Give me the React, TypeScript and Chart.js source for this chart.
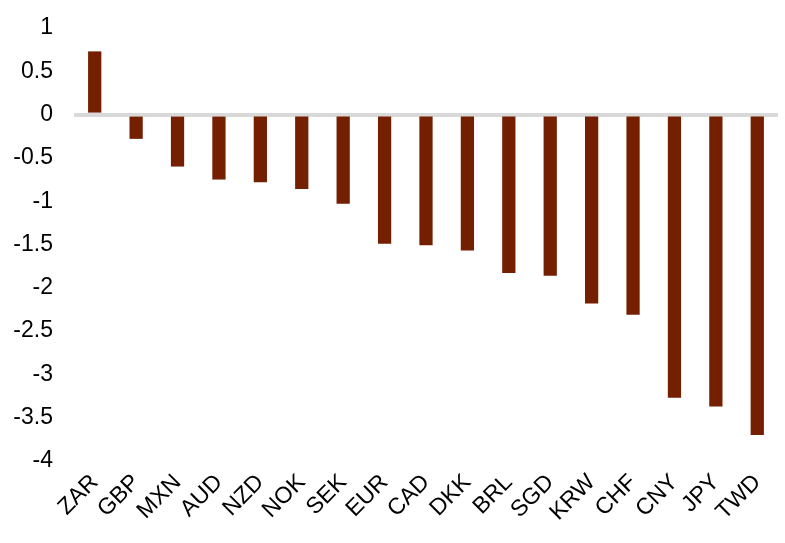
import React, { useEffect, useRef } from "react";
import { Chart, registerables } from "chart.js";

Chart.register(...registerables);

const categories = ["ZAR", "GBP", "MXN", "AUD", "NZD", "NOK", "SEK", "EUR", "CAD", "DKK", "BRL", "SGD", "KRW", "CHF", "CNY", "JPY", "TWD"];
const values = [0.73, -0.28, -0.6, -0.75, -0.78, -0.86, -1.03, -1.49, -1.51, -1.57, -1.83, -1.86, -2.18, -2.31, -3.27, -3.37, -3.7];
const yMin = -4;
const yMax = 1;
const yStep = 0.5;

export default function App() {
  const ref = useRef<HTMLCanvasElement | null>(null);

  useEffect(() => {
    document.body.style.margin = "0";
    const ctx = ref.current!.getContext("2d")!;
    const chart = new Chart(ctx, {
      type: "bar",
      data: {
        labels: categories,
        datasets: [
          {
            data: values,
            backgroundColor: "#731F00",
            borderWidth: 0,
            categoryPercentage: 1,
            barPercentage: 0.32,
          },
        ],
      },
      options: {
        animation: false,
        responsive: false,
        maintainAspectRatio: false,
        layout: { padding: { top: 28, right: 7, bottom: 0, left: 0 } },
        plugins: { legend: { display: false }, tooltip: { enabled: false } },
        scales: {
          x: {
            grid: { display: false, drawTicks: false },
            border: { display: false },
            ticks: {
              color: "#000",
              font: { family: "Arial, 'Liberation Sans'", size: 23 },
              minRotation: 45,
              maxRotation: 45,
              padding: 8,
              autoSkip: false,
            },
            afterFit: (s: any) => {
              s.height = 82;
            },
          },
          y: {
            min: yMin,
            max: yMax,
            grid: {
              drawTicks: false,
              color: (c: any) => (c.tick && c.tick.value === 0 ? "#D9D9D9" : "rgba(0,0,0,0)"),
              lineWidth: (c: any) => (c.tick && c.tick.value === 0 ? 4 : 0),
            },
            border: { display: false },
            ticks: {
              stepSize: yStep,
              color: "#000",
              font: { family: "Arial, 'Liberation Sans'", size: 23 },
              padding: 21,
              callback: (v: any) => String(Math.round(v * 10) / 10),
            },
            afterFit: (s: any) => {
              s.width = 74;
              s.paddingTop = 0;
              s.paddingBottom = 0;
            },
          },
        },
      },
    });
    return () => chart.destroy();
  }, []);

  return (
    <div style={{ width: 785, height: 543, background: "#fff" }}>
      <canvas ref={ref} width={785} height={543} style={{ display: "block" }} />
    </div>
  );
}
